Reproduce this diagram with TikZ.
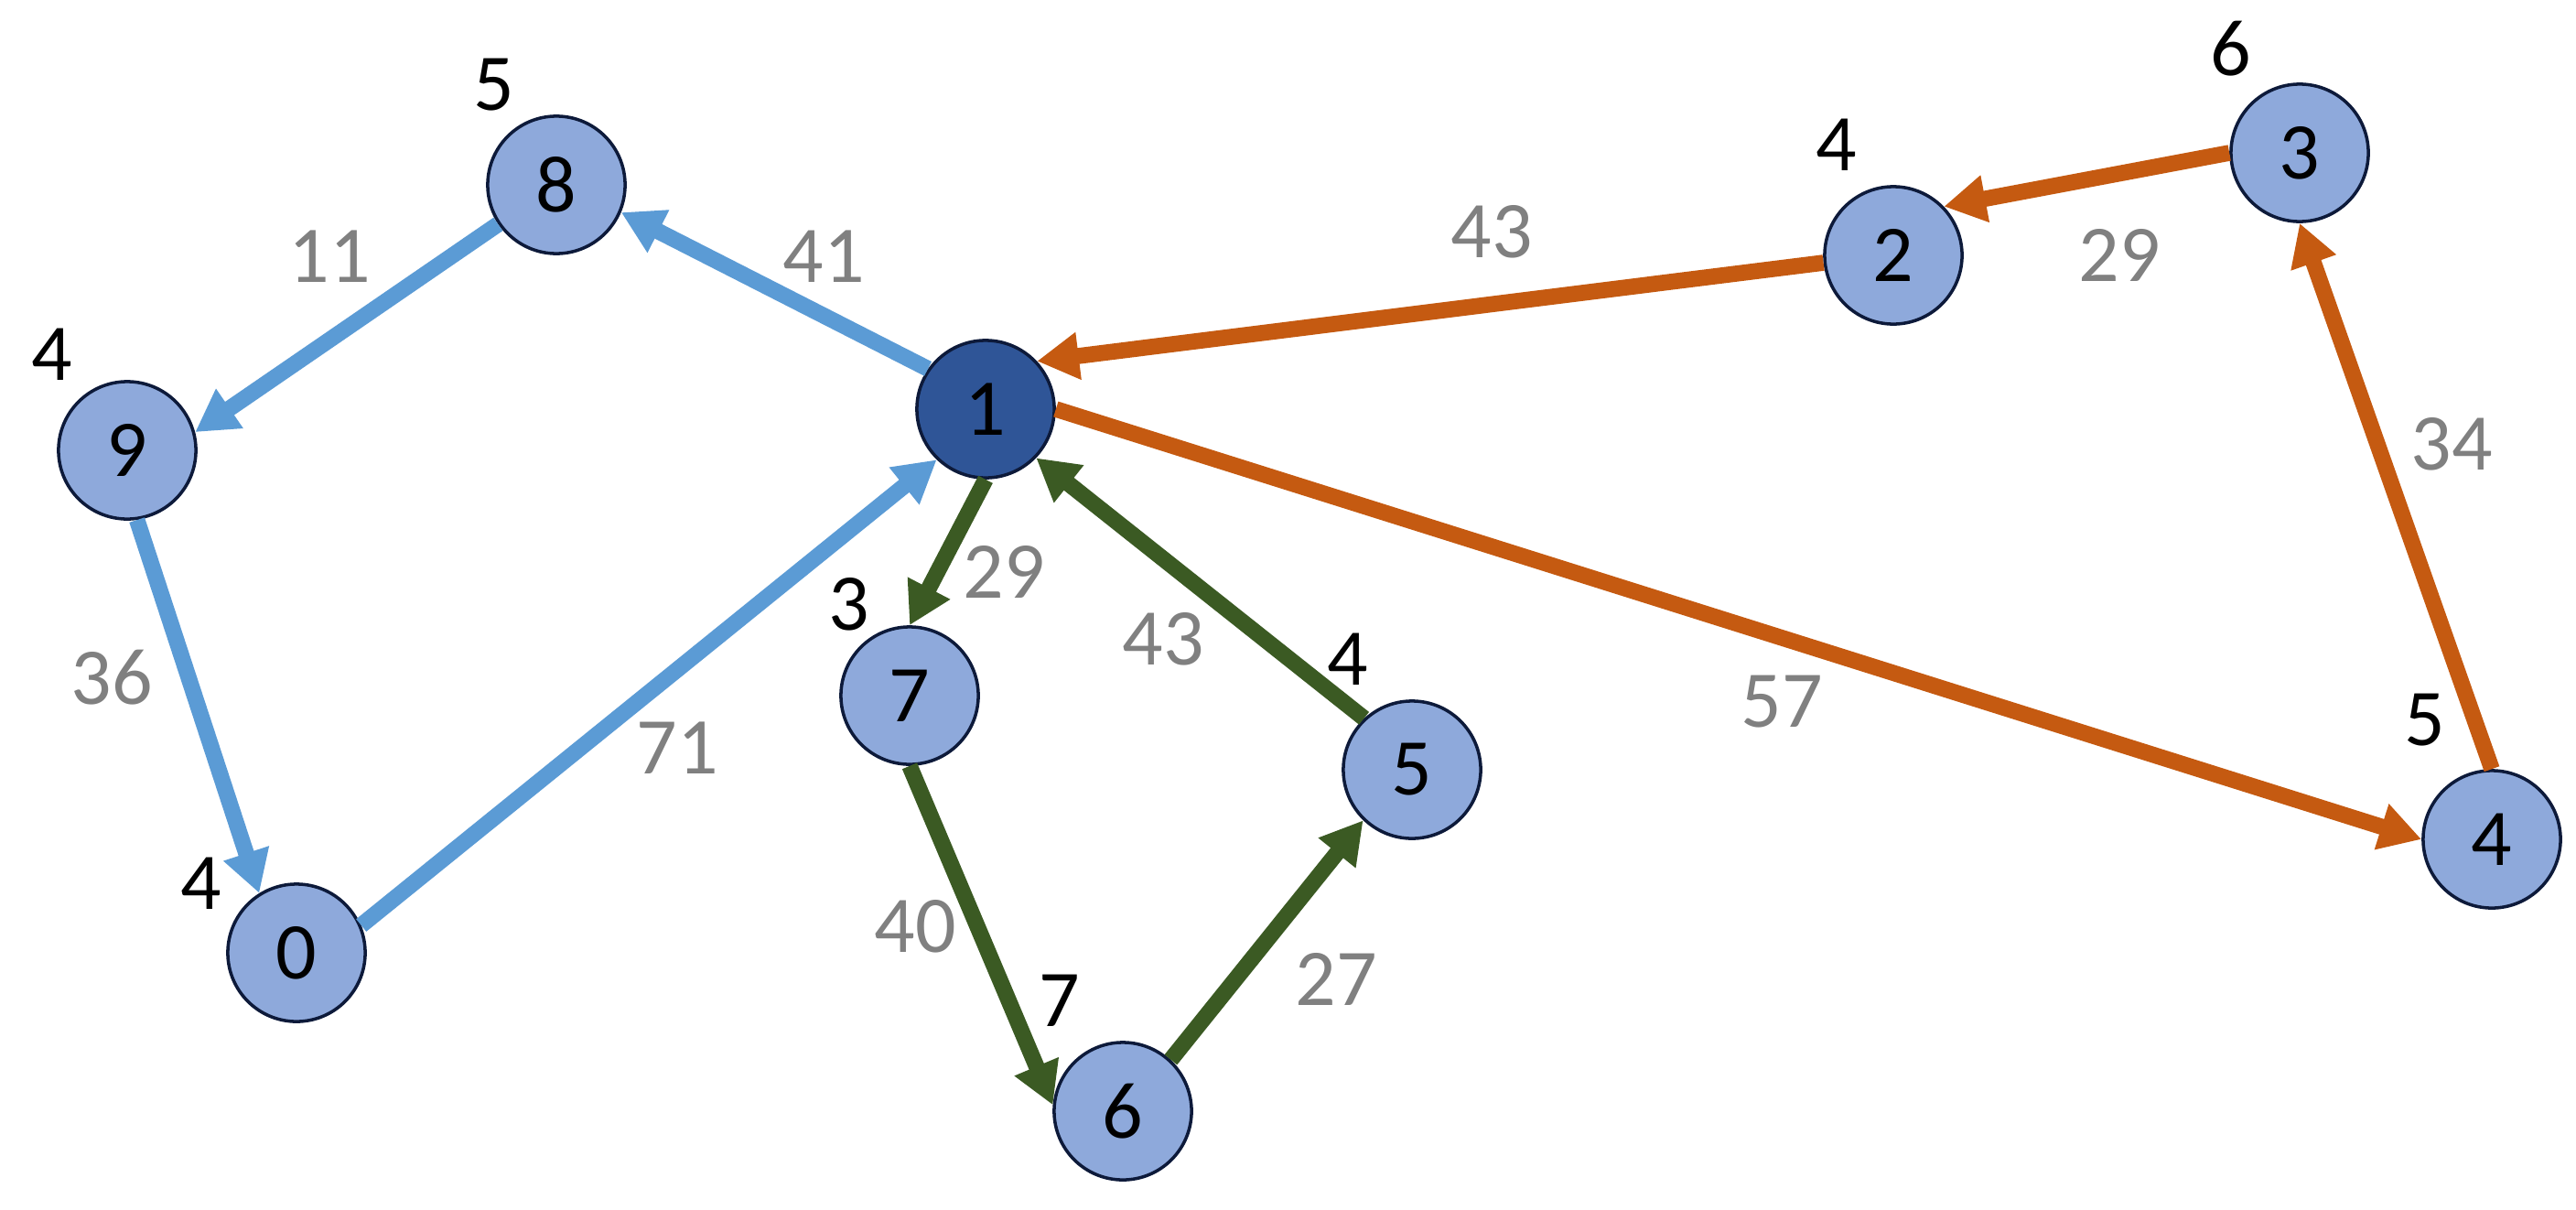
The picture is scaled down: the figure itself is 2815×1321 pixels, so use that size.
\documentclass[tikz,border=0pt]{standalone}
\usepackage{fontspec}
\setmainfont{Carlito}
\usetikzlibrary{arrows.meta}
\definecolor{nodefill}{HTML}{8EA9DB}
\definecolor{nodedark}{HTML}{2F5597}
\definecolor{nodeline}{HTML}{0D1A3A}
\definecolor{eblue}{HTML}{5B9BD5}
\definecolor{egreen}{HTML}{3B5A23}
\definecolor{eorange}{HTML}{C55A11}
\definecolor{wgray}{HTML}{808080}
\tikzset{
  vert/.style={circle, draw=nodeline, line width=1pt, fill=nodefill, minimum size=42.7pt, inner sep=0pt, font=\fontsize{25}{30}\selectfont},
  vertdark/.style={vert, fill=nodedark},
  conn/.style={line width=5pt, -{Triangle[length=13pt,width=14pt]}},
  be/.style={conn, eblue},
  ge/.style={conn, egreen},
  oe/.style={conn, eorange},
  wlab/.style={text=wgray, font=\fontsize{25}{30}\selectfont, inner sep=0pt},
  dlab/.style={text=black, font=\fontsize{25}{30}\selectfont, inner sep=0pt}
}
\begin{document}
\begin{tikzpicture}[x=0.01cm, y=-0.01cm]
\useasboundingbox (0,0) rectangle (2815,1321);
% edges first so circles sit on top of line ends
\node[vert] (n8) at (608,202) {8};
\node[vert] (n9) at (139,492) {9};
\node[vert] (n0) at (324,1041) {0};
\node[vertdark] (n1) at (1077,447) {1};
\node[vert] (n7) at (994,760) {7};
\node[vert] (n6) at (1227,1214) {6};
\node[vert] (n5) at (1543,841) {5};
\node[vert] (n2) at (2069,279) {2};
\node[vert] (n3) at (2513,167) {3};
\node[vert] (n4) at (2723,917) {4};
% edges
\draw[be] (n1.145) -- (n8.-23);
\draw[be] (n8.214) -- (n9.15);
\draw[be] (n9.-82) -- (n0.122);
\draw[be] (n0.23) -- (n1.226);
\draw[ge] (n1.south) -- (n7.north);
\draw[ge] (n7.south) -- (n6.175);
\draw[ge] (n6.47) -- (n5.226);
\draw[ge] (n5.133) -- (n1.-44);
\draw[oe] (n2.186) -- (n1.43);
\draw[oe] (n3.180) -- (n2.44);
\draw[oe] (n1.east) -- (n4.west);
\draw[oe] (n4.north) -- (n3.south);
% weights
\node[wlab] (w41) at (900,280) {41};
\node[wlab] (w11) at (360,280) {11};
\node[wlab] (w36) at (122,740) {36};
\node[wlab] (w71) at (740,817) {71};
\node[wlab] (w29a) at (1097,625) {29};
\node[wlab] (w43a) at (1271,698) {43};
\node[wlab] (w40) at (1000,1012) {40};
\node[wlab] (w27) at (1460,1070) {27};
\node[wlab] (w43b) at (1630,253) {43};
\node[wlab] (w29b) at (2316,279) {29};
\node[wlab] (w34) at (2679,485) {34};
\node[wlab] (w57) at (1947,767) {57};
% degree labels
\node[dlab] (d8) at (540,93) {5};
\node[dlab] (d9) at (57,387) {4};
\node[dlab] (d0) at (220,965) {4};
\node[dlab] (d7) at (928,660) {3};
\node[dlab] (d6) at (1158,1093) {7};
\node[dlab] (d5) at (1473,720) {4};
\node[dlab] (d4) at (2650,787) {5};
\node[dlab] (d2) at (2007,158) {4};
\node[dlab] (d3) at (2438,53) {6};
\end{tikzpicture}
\end{document}
